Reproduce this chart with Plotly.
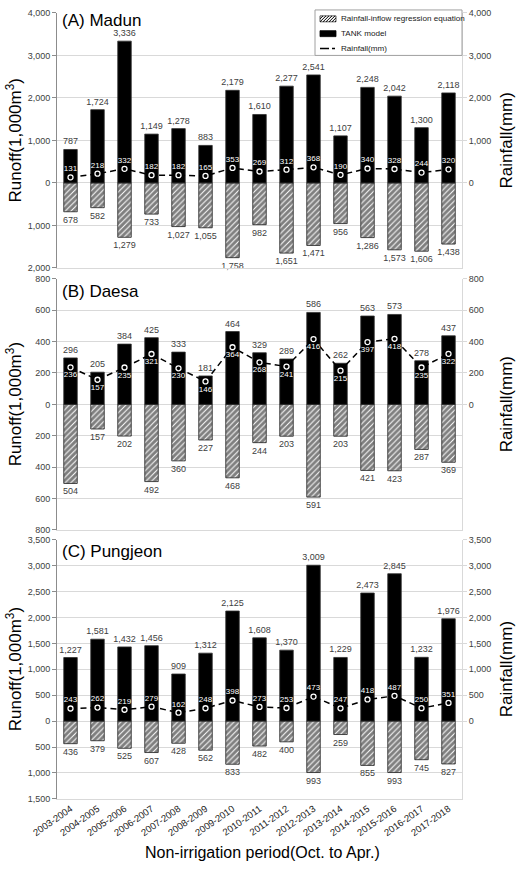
import plotly.graph_objects as go

periods = ["2003-2004", "2004-2005", "2005-2006", "2006-2007", "2007-2008",
           "2008-2009", "2009-2010", "2010-2011", "2011-2012", "2012-2013",
           "2013-2014", "2014-2015", "2015-2016", "2016-2017", "2017-2018"]

madun_tank = [787, 1724, 3336, 1149, 1278, 883, 2179, 1610, 2277, 2541, 1107, 2248, 2042, 1300, 2118]
madun_reg = [678, 582, 1279, 733, 1027, 1055, 1758, 982, 1651, 1471, 956, 1286, 1573, 1606, 1438]
madun_rain = [131, 218, 332, 182, 182, 165, 353, 269, 312, 368, 190, 340, 328, 244, 320]

daesa_tank = [296, 205, 384, 425, 333, 181, 464, 329, 289, 586, 262, 563, 573, 278, 437]
daesa_reg = [504, 157, 202, 492, 360, 227, 468, 244, 203, 591, 203, 421, 423, 287, 369]
daesa_rain = [236, 157, 235, 321, 230, 146, 364, 268, 241, 416, 215, 397, 418, 235, 322]

pung_tank = [1227, 1581, 1432, 1456, 909, 1312, 2125, 1608, 1370, 3009, 1229, 2473, 2845, 1232, 1976]
pung_reg = [436, 379, 525, 607, 428, 562, 833, 482, 400, 993, 259, 855, 993, 745, 827]
pung_rain = [243, 262, 219, 279, 162, 248, 398, 273, 253, 473, 247, 418, 487, 250, 351]

legend_labels = ["Rainfall-inflow regression equation", "TANK model", "Rainfall(mm)"]

panels = [
    dict(name="(A) Madun", tank=madun_tank, reg=madun_reg, rain=madun_rain,
         lo=-2000, hi=4000, step=1000, rainpos="top center"),
    dict(name="(B) Daesa", tank=daesa_tank, reg=daesa_reg, rain=daesa_rain,
         lo=-800, hi=800, step=200, rainpos="bottom center"),
    dict(name="(C) Pungjeon", tank=pung_tank, reg=pung_reg, rain=pung_rain,
         lo=-1500, hi=3500, step=500, rainpos="top center"),
]

H = 873
W = 521
L, R = 57, 59
plot_w = W - L - R
pix = [(8, 266), (277, 531), (541, 803)]
title_y = [16, 290, 553]

FONT = "Liberation Sans, Arial, sans-serif"
TXT = "#404040"
GRID = "#d9d9d9"


def px(x, y):
    return (x - L) / plot_w, 1 - y / H


fig = go.Figure()
layout = dict(
    width=W, height=H,
    margin=dict(l=L, r=R, t=0, b=0),
    paper_bgcolor="white", plot_bgcolor="white",
    barmode="overlay",
    font=dict(family=FONT, color=TXT, size=9),
    showlegend=False,
)
annotations = []
shapes = []

for i, p in enumerate(panels):
    n = i + 1
    xa = "x" if n == 1 else f"x{n}"
    yl = 2 * i + 1
    yr = 2 * i + 2
    yl_name = "y" if yl == 1 else f"y{yl}"
    yr_name = f"y{yr}"

    fig.add_trace(go.Bar(
        x=periods, y=[-v for v in p["reg"]], xaxis=xa, yaxis=yl_name,
        name=legend_labels[0], width=0.5,
        marker=dict(color="white", line=dict(color="#202020", width=0.8),
                    pattern=dict(shape="/", fgcolor="black", bgcolor="white",
                                 size=4, solidity=0.75)),
        text=[f"{v:,}" for v in p["reg"]], textposition="outside",
        constraintext="none", cliponaxis=False,
        textfont=dict(size=9, color=TXT, family=FONT),
        hoverinfo="skip"))
    fig.add_trace(go.Bar(
        x=periods, y=p["tank"], xaxis=xa, yaxis=yl_name,
        name=legend_labels[1], width=0.5,
        marker=dict(color="black", line=dict(color="#303030", width=0.8)),
        text=[f"{v:,}" for v in p["tank"]], textposition="outside",
        constraintext="none", cliponaxis=False,
        textfont=dict(size=9, color=TXT, family=FONT),
        hoverinfo="skip"))
    fig.add_trace(go.Scatter(
        x=periods, y=p["rain"], xaxis=xa, yaxis=yr_name,
        mode="lines+markers+text", name=legend_labels[2],
        line=dict(color="black", width=1.5, dash="6px,4px"),
        marker=dict(symbol="circle", size=5, color="black",
                    line=dict(color="white", width=1.3)),
        text=[str(v) for v in p["rain"]], textposition=p["rainpos"],
        textfont=dict(size=8, color="white", family=FONT),
        cliponaxis=False, hoverinfo="skip"))

    top, bot = pix[i]
    dom = [1 - bot / H, 1 - top / H]
    tickvals = list(range(p["lo"], p["hi"] + 1, p["step"]))
    ticktext = [f"{abs(v):,}" for v in tickvals]
    rvals = [v for v in tickvals if v >= 0]

    xkey = "xaxis" if n == 1 else f"xaxis{n}"
    layout[xkey] = dict(
        domain=[0, 1], anchor=yl_name, range=[-0.5, 14.5],
        type="category", categoryorder="array", categoryarray=periods,
        showticklabels=(n == 3), tickangle=-35,
        tickfont=dict(size=9.5, color="#202020"),
        showline=True, linecolor=GRID, linewidth=1, showgrid=False,
        ticks="", zeroline=False)
    lkey = "yaxis" if yl == 1 else f"yaxis{yl}"
    layout[lkey] = dict(
        domain=dom, anchor=xa, range=[p["lo"], p["hi"]],
        tickvals=tickvals, ticktext=ticktext, tickfont=dict(size=9, color=TXT),
        showgrid=True, gridcolor=GRID, gridwidth=1, zeroline=False,
        showline=True, linecolor="#8c8c8c", linewidth=1,
        ticks="outside", ticklen=4, tickcolor="#8c8c8c")
    layout[f"yaxis{yr}"] = dict(
        overlaying=yl_name, side="right", anchor=xa, range=[p["lo"], p["hi"]],
        tickvals=rvals, ticktext=[f"{v:,}" for v in rvals],
        tickfont=dict(size=9, color=TXT),
        showgrid=False, zeroline=False,
        showline=True, linecolor=GRID, linewidth=1,
        ticks="outside", ticklen=4, tickcolor=GRID)

    tx, ty = px(61, title_y[i])
    annotations.append(dict(
        text=p["name"], xref="paper", yref="paper", x=tx, y=ty,
        xanchor="left", yanchor="middle", showarrow=False, borderpad=0,
        font=dict(size=17, color="black", family=FONT)))
    mid = 1 - (top + bot) / 2 / H
    annotations.append(dict(
        text="Runoff(1,000m<sup>3</sup>)", xref="paper", yref="paper",
        x=(14 - L) / plot_w, y=mid, xanchor="center", yanchor="middle",
        textangle=-90, showarrow=False,
        font=dict(size=17, color="black", family=FONT)))
    annotations.append(dict(
        text="Rainfall(mm)", xref="paper", yref="paper",
        x=(506 - L) / plot_w, y=mid, xanchor="center", yanchor="middle",
        textangle=-90, showarrow=False,
        font=dict(size=17, color="black", family=FONT)))

ax_, ay_ = px(262, 857)
annotations.append(dict(
    text="Non-irrigation period(Oct. to Apr.)", xref="paper", yref="paper",
    x=ax_, y=ay_, xanchor="center", yanchor="middle",
    showarrow=False, font=dict(size=16, color="black", family=FONT)))

# ---- manual legend (box, symbols, labels) in panel A ----
bx0, by0 = px(315, 5)
bx1, by1 = px(462, 51)
shapes.append(dict(type="rect", xref="paper", yref="paper", x0=bx0, y0=by1,
                   x1=bx1, y1=by0, line=dict(color="#a0a0a0", width=1),
                   fillcolor="white", layer="above"))
# hatched symbol
sx0, sx1, sy0, sy1 = 320, 336, 11, 17
x0p, y0p = px(sx0, sy0)
x1p, y1p = px(sx1, sy1)
shapes.append(dict(type="rect", xref="paper", yref="paper", x0=x0p, y0=y1p,
                   x1=x1p, y1=y0p, line=dict(color="#303030", width=0.8),
                   fillcolor="white", layer="above"))
segs = []
hgt = sy1 - sy0
for k in range(sx0 - hgt, sx1, 3):
    xa0, ya0 = k, sy1
    xa1, ya1 = k + hgt, sy0
    if xa0 < sx0:
        ya0 = sy1 - (sx0 - xa0)
        xa0 = sx0
    if xa1 > sx1:
        ya1 = sy0 + (xa1 - sx1)
        xa1 = sx1
    if xa1 <= xa0:
        continue
    p0 = px(xa0, ya0)
    p1 = px(xa1, ya1)
    segs.append(f"M{p0[0]},{p0[1]} L{p1[0]},{p1[1]}")
shapes.append(dict(type="path", xref="paper", yref="paper", path=" ".join(segs),
                   line=dict(color="black", width=1), layer="above"))
# TANK symbol
x0p, y0p = px(320, 26)
x1p, y1p = px(336, 32)
shapes.append(dict(type="rect", xref="paper", yref="paper", x0=x0p, y0=y1p,
                   x1=x1p, y1=y0p, line=dict(color="black", width=0.8),
                   fillcolor="black", layer="above"))
# rainfall symbol
x0p, y0p = px(320, 44)
x1p, _ = px(337, 44)
shapes.append(dict(type="line", xref="paper", yref="paper", x0=x0p, y0=y0p,
                   x1=x1p, y1=y0p, line=dict(color="black", width=1.5, dash="dashdot"),
                   layer="above"))
for lab, yy in zip(legend_labels, [14, 29, 44]):
    lx, ly = px(339, yy)
    annotations.append(dict(
        text=lab, xref="paper", yref="paper", x=lx, y=ly,
        xanchor="left", yanchor="middle", showarrow=False,
        font=dict(size=8.1, color="#202020", family=FONT)))

layout["annotations"] = annotations
layout["shapes"] = shapes
fig.update_layout(**layout)
fig.write_html("out.html")
